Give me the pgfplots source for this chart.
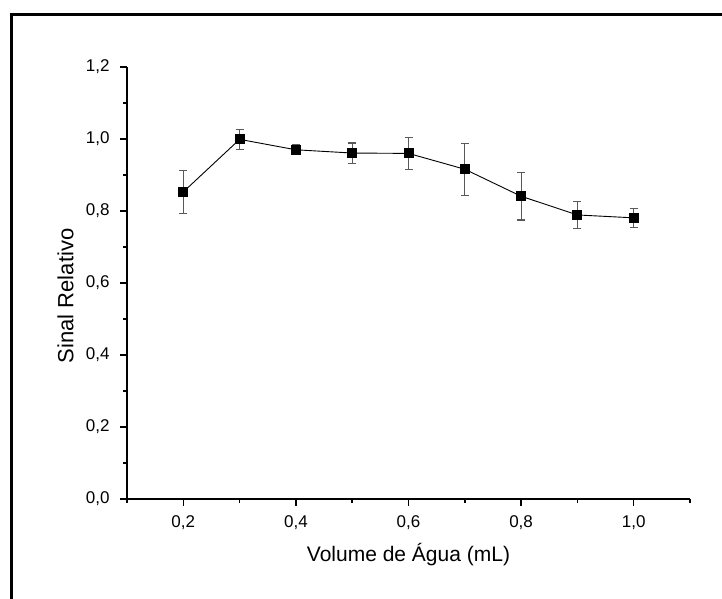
\documentclass[border=0pt]{standalone}
\usepackage{pgfplots}
\pgfplotsset{compat=1.18}
\usepackage{fontspec}
\setmainfont{Liberation Sans}
\begin{document}
\begin{tikzpicture}[x=1pt,y=1pt]
\useasboundingbox (0,0) rectangle (722,598);
\draw[line width=3pt,line cap=rect] (11.5,0) -- (11.5,583.5) -- (722,583.5);
\begin{axis}[
  at={(127pt,99pt)}, anchor=origin,
  scale only axis, width=563pt, height=432pt,
  xmin=0.1, xmax=1.1, ymin=0, ymax=1.2,
  axis x line*=bottom, axis y line*=left,
  axis line style={line width=1.5pt,-},
  xtick={0.2,0.4,0.6,0.8,1.0}, ytick={0,0.2,0.4,0.6,0.8,1.0,1.2},
  minor xtick={0.1,0.3,0.5,0.7,0.9,1.1},
  minor ytick={0.1,0.3,0.5,0.7,0.9,1.1},
  tick align=outside,
  major tick length=7pt, minor tick length=4pt,
  every tick/.style={line width=1.5pt,black},
  /pgf/number format/assume math mode=true,
  /pgf/number format/use comma,
  /pgf/number format/fixed, /pgf/number format/fixed zerofill,
  /pgf/number format/precision=1,
  tick label style={font=\fontsize{17}{20}\selectfont},
  xticklabel style={yshift=-6pt},
  yticklabel style={xshift=-7pt},
  xlabel={Volume de Água (mL)},
  ylabel={Sinal Relativo},
  xlabel style={font=\fontsize{21}{24}\selectfont, at={(axis description cs:0.5,0)}, anchor=center, yshift=-56pt},
  ylabel style={font=\fontsize{22}{25}\selectfont, at={(axis description cs:-0.109,0.47)}, anchor=center, rotate=0},
  clip=false,
]
\addplot[black, line width=0.9pt, mark=square*, mark size=4.5pt,
  mark options={solid,fill=black},
  error bars/.cd, y dir=both, y explicit,
  error bar style={line width=1.1pt, black!65},
  error mark options={line width=1.1pt, black!65, mark size=4pt, rotate=90}]
coordinates {
(0.2,0.853) +- (0,0.059)
(0.3,0.999) +- (0,0.027)
(0.4,0.970) +- (0,0.014)
(0.5,0.961) +- (0,0.028)
(0.6,0.960) +- (0,0.044)
(0.7,0.916) +- (0,0.072)
(0.8,0.841) +- (0,0.066)
(0.9,0.789) +- (0,0.038)
(1.0,0.781) +- (0,0.026)
};
\end{axis}
\end{tikzpicture}
\end{document}
